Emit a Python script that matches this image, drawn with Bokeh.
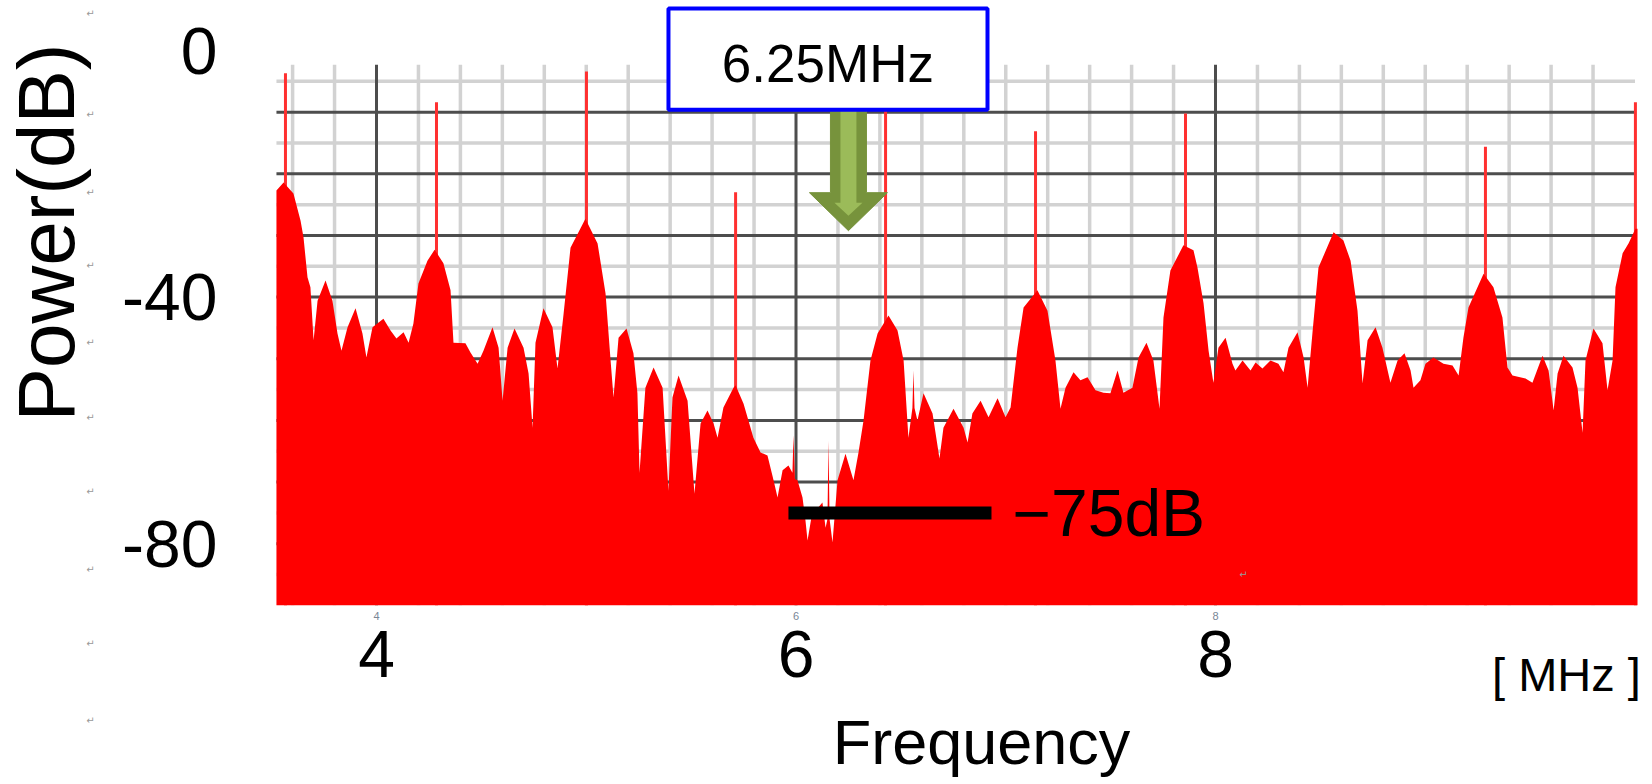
import numpy as np
from bokeh.plotting import figure
from bokeh.models import FixedTicker, Label, Range1d
from bokeh.core.properties import value
from bokeh.embed import file_html
from bokeh.resources import INLINE

# ---- spectrum envelope (MHz, dB) ----
freq_mhz = [
    3.523, 3.557, 3.604, 3.638, 3.652, 3.671, 3.685, 3.700, 3.719, 3.757,
    3.790, 3.814, 3.833, 3.862, 3.900, 3.933, 3.952, 3.981, 4.033, 4.067,
    4.095, 4.129, 4.153, 4.176, 4.200, 4.243, 4.277, 4.319, 4.353, 4.367,
    4.424, 4.448, 4.482, 4.510, 4.553, 4.582, 4.601, 4.625, 4.658, 4.701,
    4.725, 4.744, 4.758, 4.796, 4.839, 4.863, 4.892, 4.925, 4.996, 5.054,
    5.092, 5.116, 5.130, 5.154, 5.192, 5.225, 5.244, 5.254, 5.282, 5.321,
    5.364, 5.392, 5.411, 5.440, 5.483, 5.516, 5.545, 5.578, 5.607, 5.626,
    5.654, 5.702, 5.712, 5.750, 5.797, 5.831, 5.864, 5.893, 5.912, 5.936,
    5.964, 5.983, 5.988, 5.995, 6.007, 6.031, 6.045, 6.055, 6.079, 6.107,
    6.126, 6.141, 6.150, 6.155, 6.160, 6.174, 6.198, 6.236, 6.274, 6.298,
    6.322, 6.355, 6.389, 6.441, 6.484, 6.513, 6.536, 6.555, 6.560, 6.565,
    6.579, 6.608, 6.651, 6.684, 6.703, 6.751, 6.799, 6.818, 6.841, 6.880,
    6.918, 6.961, 6.999, 7.023, 7.056, 7.085, 7.151, 7.199, 7.237, 7.261,
    7.285, 7.323, 7.356, 7.390, 7.428, 7.466, 7.499, 7.533, 7.561, 7.604,
    7.633, 7.671, 7.704, 7.733, 7.752, 7.785, 7.847, 7.895, 7.914, 7.943,
    7.967, 7.990, 8.014, 8.048, 8.081, 8.095, 8.129, 8.167, 8.191, 8.224,
    8.262, 8.300, 8.324, 8.348, 8.391, 8.420, 8.439, 8.462, 8.491, 8.563,
    8.610, 8.644, 8.677, 8.701, 8.725, 8.763, 8.796, 8.834, 8.868, 8.901,
    8.930, 8.944, 8.977, 9.001, 9.039, 9.087, 9.130, 9.159, 9.182, 9.206,
    9.278, 9.325, 9.368, 9.392, 9.416, 9.478, 9.511, 9.559, 9.588, 9.612,
    9.631, 9.659, 9.702, 9.726, 9.750, 9.764, 9.802, 9.845, 9.869, 9.893,
    9.907, 9.941, 9.969, 10.002, 10.012,
]
power_db = [
    -22.7, -21.4, -23.2, -27.6, -30.3, -36.8, -38.4, -47.0, -40.6, -37.3,
    -40.6, -45.9, -48.7, -44.9, -41.8, -45.9, -49.8, -44.9, -43.5, -45.4,
    -46.7, -45.7, -47.4, -44.3, -37.8, -34.1, -32.3, -34.5, -38.9, -47.4,
    -47.5, -49.0, -50.8, -48.7, -44.9, -48.2, -56.8, -48.2, -45.1, -48.2,
    -52.4, -61.2, -47.4, -41.8, -44.9, -51.6, -42.7, -32.0, -27.3, -31.3,
    -39.4, -50.3, -56.3, -46.6, -45.1, -49.1, -55.6, -68.5, -54.7, -51.4,
    -54.7, -71.4, -56.3, -52.7, -56.8, -71.9, -60.5, -58.4, -60.5, -62.8,
    -57.9, -54.7, -54.3, -57.3, -62.8, -65.2, -65.7, -69.7, -72.5, -68.1,
    -67.3, -68.5, -62.4, -69.5, -69.7, -72.5, -76.2, -79.5, -74.6, -74.1,
    -73.3, -77.4, -76.0, -63.3, -76.0, -79.8, -69.7, -65.4, -69.7, -65.2,
    -60.0, -50.3, -45.9, -43.0, -45.4, -50.3, -62.8, -58.0, -51.9, -58.0,
    -60.0, -55.6, -58.9, -66.2, -61.2, -58.1, -61.2, -63.6, -58.9, -56.8,
    -59.5, -56.4, -59.5, -57.9, -48.2, -41.7, -38.9, -42.2, -50.3, -58.1,
    -54.7, -52.2, -53.5, -53.0, -55.1, -55.5, -55.6, -51.9, -55.5, -54.7,
    -49.8, -47.4, -50.3, -58.1, -43.3, -35.7, -31.6, -32.4, -35.2, -41.0,
    -48.7, -53.9, -48.2, -46.6, -50.8, -51.9, -50.3, -51.9, -50.6, -51.6,
    -50.3, -50.8, -52.2, -48.2, -45.7, -49.8, -54.7, -45.9, -35.2, -29.5,
    -30.8, -34.1, -42.2, -54.0, -47.0, -44.9, -48.2, -53.9, -50.3, -49.1,
    -51.9, -54.7, -53.5, -50.8, -49.8, -50.8, -51.1, -52.7, -46.6, -41.7,
    -36.2, -38.4, -43.3, -51.4, -52.7, -53.2, -53.9, -49.5, -51.9, -58.4,
    -52.4, -49.5, -51.4, -54.7, -62.0, -50.3, -45.1, -47.5, -55.1, -50.3,
    -38.4, -32.9, -31.3, -28.9, -28.9,
]

# ---- discrete carrier lines ----
line_freq_mhz = [3.566, 4.286, 5.001, 5.712, 6.427, 7.142, 7.857, 9.287, 10.002]
line_peak_db = [-3.7, -8.4, -3.4, -23.0, -9.0, -13.1, -10.2, -15.6, -8.4]

# ---- axes ----
x_ticks = [4, 6, 8]
y_ticks = [0, -40, -80]

# ---- annotations ----
MARK_FREQ = 6.25          # MHz, indicated by the arrow
FLOOR_LEVEL = -75         # dB, level of the horizontal bar
FLOOR_BAR_MHZ = (5.964, 6.932)

# trace extent and display scale
X_MIN, X_MAX = 3.523, 10.012
FLOOR = -90.0
GRID_TOP = -2.3
PX_PER_MHZ = 209.75
PX_PER_DB = 6.165
W, H = 1652, 784
VIEW_X0 = 4 - 376 / PX_PER_MHZ
VIEW_Y1 = 50 / PX_PER_DB
FONT = "Liberation Sans"

p = figure(width=W, height=H,
           x_range=Range1d(VIEW_X0, VIEW_X0 + W / PX_PER_MHZ),
           y_range=Range1d(VIEW_Y1 - H / PX_PER_DB, VIEW_Y1),
           output_backend="svg", toolbar_location=None, min_border=0)
p.outline_line_color = None
p.xgrid.visible = False
p.ygrid.visible = False
p.background_fill_color = "white"
p.border_fill_color = "white"

PX_X = 1 / PX_PER_MHZ
PX_Y = 1 / PX_PER_DB

# ---- instrument graticule ----
minor_v = [round(v, 2) for v in np.arange(3.6, 10.01, 0.2) if abs(v / 2 - round(v / 2)) > 1e-6]
major_v = [4.0, 6.0, 8.0]
minor_h = list(np.arange(-85, -4, 10))
major_h = list(np.arange(-80, -9, 10))

p.segment(x0=minor_v, y0=FLOOR, x1=minor_v, y1=GRID_TOP, line_color="#d2d2d2", line_width=3.5)
p.segment(x0=X_MIN, y0=minor_h, x1=10.0, y1=minor_h, line_color="#d2d2d2", line_width=3.5)
p.segment(x0=X_MIN, y0=major_h, x1=10.0, y1=major_h, line_color="#4d4d4d", line_width=3)
p.segment(x0=major_v, y0=FLOOR, x1=major_v, y1=GRID_TOP, line_color="#4d4d4d", line_width=3)

# ---- spectrum ----
p.segment(x0=line_freq_mhz, y0=FLOOR, x1=line_freq_mhz, y1=line_peak_db,
          line_color="#ff3030", line_width=3)
p.varea(x=freq_mhz, y1=FLOOR, y2=power_db, fill_color="#ff0000")

# ---- floor bar ----
p.segment(x0=FLOOR_BAR_MHZ[0], y0=FLOOR_LEVEL, x1=FLOOR_BAR_MHZ[1], y1=FLOOR_LEVEL,
          line_color="black", line_width=13, line_cap="butt")
p.text(x=[7.032], y=[FLOOR_LEVEL], text=[f"\u2212{abs(FLOOR_LEVEL)}dB"],
       text_font=value(FONT), text_font_size="66px", text_color="black",
       text_align="left", text_baseline="middle")

# ---- arrow ----
a_top = -9.6
sh, hh = 18 * PX_X, 39 * PX_X
base, tip = a_top - 83 * PX_Y, a_top - 121 * PX_Y
p.patch(x=[MARK_FREQ - sh, MARK_FREQ + sh, MARK_FREQ + sh, MARK_FREQ + hh, MARK_FREQ,
           MARK_FREQ - hh, MARK_FREQ - sh],
        y=[a_top, a_top, base, base, tip, base, base],
        fill_color="#77933c", line_color="#77933c", line_width=1)
ish, ihh = 8 * PX_X, 14 * PX_X
ibase, itip = a_top - 93 * PX_Y, a_top - 106 * PX_Y
p.patch(x=[MARK_FREQ - ish, MARK_FREQ + ish, MARK_FREQ + ish, MARK_FREQ + ihh, MARK_FREQ,
           MARK_FREQ - ihh, MARK_FREQ - ish],
        y=[a_top, a_top, ibase, ibase, itip, ibase, ibase],
        fill_color="#9bbb59", line_color=None)

# ---- frequency callout box ----
p.quad(left=[5.392], right=[6.913], top=[6.8], bottom=[-9.6],
       fill_color="white", line_color="#0000ff", line_width=4)
p.text(x=[6.152], y=[-2.1], text=[f"{MARK_FREQ}MHz"],
       text_font=value(FONT), text_font_size="53px", text_color="black",
       text_align="center", text_baseline="middle")

# ---- axes pinned to the trace corner ----
p.xaxis.fixed_location = FLOOR
p.yaxis.fixed_location = X_MIN
for ax, ticks, standoff in ((p.xaxis, x_ticks, 20), (p.yaxis, y_ticks, 53)):
    ax.ticker = FixedTicker(ticks=ticks)
    ax.major_label_overrides = {t: str(t) for t in ticks}
    ax.axis_line_color = None
    ax.major_tick_line_color = None
    ax.minor_tick_line_color = None
    ax.major_label_text_font = FONT
    ax.major_label_text_font_size = "66px"
    ax.major_label_text_color = "black"
    ax.major_label_standoff = standoff

# tiny instrument tick numbers under the graticule
for t in x_ticks:
    p.add_layout(Label(x=t, y=165, y_units="screen", text=str(t), text_font=FONT,
                       text_font_size="11px", text_color="#7a8696", text_align="center"))

p.add_layout(Label(x=46, y=552, x_units="screen", y_units="screen", text="Power(dB)",
                   angle=np.pi / 2, text_font=FONT, text_font_size="80px",
                   text_color="black", text_align="center", text_baseline="middle"))
p.add_layout(Label(x=981, y=43, x_units="screen", y_units="screen", text="Frequency",
                   text_font=FONT, text_font_size="63px", text_color="black",
                   text_align="center", text_baseline="alphabetic"))
p.add_layout(Label(x=1566, y=110, x_units="screen", y_units="screen", text="[ MHz ]",
                   text_font=FONT, text_font_size="47px", text_color="black",
                   text_align="center", text_baseline="alphabetic"))

# paragraph marks down the left margin
for yy in [771, 670, 592, 519, 442, 367, 293, 215, 141, 64]:
    p.add_layout(Label(x=90, y=yy, x_units="screen", y_units="screen", text="\u21b5",
                       text_font="DejaVu Sans", text_font_size="10px", text_color="#999999",
                       text_align="center", text_baseline="middle"))
p.add_layout(Label(x=1243, y=210, x_units="screen", y_units="screen", text="\u21b5",
                   text_font="DejaVu Sans", text_font_size="10px", text_color="#999999",
                   text_align="center", text_baseline="middle"))

open("out.html", "w").write(file_html(p, INLINE))
